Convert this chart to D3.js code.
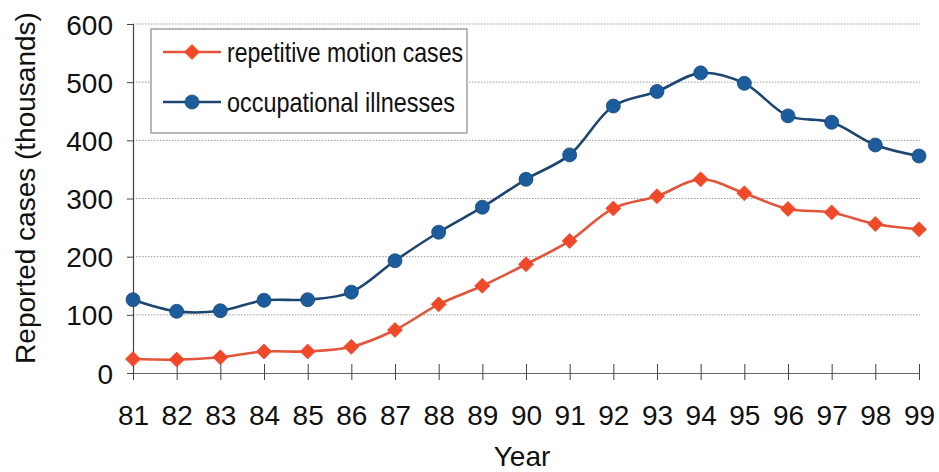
<!DOCTYPE html>
<html>
<head>
<meta charset="utf-8">
<script src="https://cdn.jsdelivr.net/npm/d3@7"></script>
<style>
  html, body { margin: 0; padding: 0; background: #fff; }
  svg { display: block; }
  text { font-family: Arial, "Liberation Sans", Helvetica, sans-serif; fill: #111; }
</style>
</head>
<body>
<svg id="chart" width="939" height="472"></svg>
<script>
// Reported cases by year (thousands)
const years = ["81","82","83","84","85","86","87","88","89","90","91","92","93","94","95","96","97","98","99"];
const repetitiveMotion = [24, 23, 27, 37, 37, 45, 74, 118, 150, 187, 227, 283, 304, 333, 309, 282, 276, 256, 247];
const occupationalIllnesses = [126, 106, 107, 125, 126, 139, 193, 242, 285, 333, 375, 459, 484, 516, 498, 442, 431, 392, 373];
const yTicks = [0, 100, 200, 300, 400, 500, 600];
const seriesNames = ["repetitive motion cases", "occupational illnesses"];

const svg = d3.select("#chart");
const plot = { left: 133, right: 919, top: 24, bottom: 373 };

const x = d3.scalePoint().domain(years).range([plot.left, plot.right]);
const y = d3.scaleLinear().domain([0, 600]).range([plot.bottom, plot.top]);

// dotted horizontal gridlines
svg.append("g")
  .selectAll("line")
  .data(yTicks.filter(d => d > 0))
  .join("line")
  .attr("x1", plot.left).attr("x2", plot.right + 1)
  .attr("y1", d => y(d)).attr("y2", d => y(d))
  .attr("stroke", "#9a9a9a")
  .attr("stroke-width", 1)
  .attr("stroke-dasharray", "1.5,1.5");

// y axis
const yAxis = svg.append("g")
  .attr("transform", `translate(${plot.left},0)`)
  .call(d3.axisLeft(y).tickValues(yTicks).tickSize(6).tickPadding(14));
yAxis.select(".domain").attr("stroke", "#444").attr("stroke-width", 1.2);
yAxis.selectAll(".tick line").attr("stroke", "#444");
yAxis.selectAll(".tick text")
  .style("font-size", "28px")
  .attr("fill", "#111")
  .attr("dy", "0.36em");

// x axis, ticks crossing the baseline
const xAxis = svg.append("g")
  .attr("transform", `translate(0,${plot.bottom})`)
  .call(d3.axisBottom(x).tickSizeInner(7).tickSizeOuter(0).tickPadding(25));
xAxis.select(".domain").attr("stroke", "#666").attr("stroke-width", 1.2);
xAxis.selectAll(".tick line").attr("y1", -9).attr("stroke", "#444");
xAxis.selectAll(".tick text")
  .style("font-size", "28px")
  .attr("fill", "#111");

// axis titles
svg.append("text")
  .attr("transform", "translate(25,188) rotate(-90)")
  .attr("text-anchor", "middle")
  .attr("dominant-baseline", "central")
  .style("font-size", "28px")
  .text("Reported cases (thousands)");

svg.append("text")
  .attr("x", 522).attr("y", 466)
  .attr("text-anchor", "middle")
  .style("font-size", "28px")
  .text("Year");

const series = [
  { name: seriesNames[0], values: repetitiveMotion, line: "#e2553b", fill: "#f0492a", shape: "diamond" },
  { name: seriesNames[1], values: occupationalIllnesses, line: "#1c4670", fill: "#1d5c9c", shape: "circle" }
];

const lineGen = d3.line()
  .x((d, i) => x(years[i]))
  .y(d => y(d))
  .curve(d3.curveCatmullRom.alpha(0.5));

function drawMarker(g, shape, color) {
  if (shape === "diamond") {
    g.append("path")
      .attr("d", "M0,-7.5L7.5,0L0,7.5L-7.5,0Z")
      .attr("fill", color)
      .attr("stroke", color).attr("stroke-width", 0.8);
  } else {
    g.append("circle")
      .attr("r", 7)
      .attr("fill", color)
      .attr("stroke", "#184a7c").attr("stroke-width", 0.8);
  }
}

series.forEach(s => {
  svg.append("path")
    .datum(s.values)
    .attr("d", lineGen)
    .attr("fill", "none")
    .attr("stroke", s.line)
    .attr("stroke-width", 2.6);
  svg.append("g")
    .selectAll("g")
    .data(s.values)
    .join("g")
    .attr("transform", (d, i) => `translate(${x(years[i])},${y(d)})`)
    .each(function() { drawMarker(d3.select(this), s.shape, s.fill); });
});

// legend
const legend = svg.append("g");
legend.append("rect")
  .attr("x", 151).attr("y", 29)
  .attr("width", 316).attr("height", 104)
  .attr("fill", "#fff")
  .attr("stroke", "#8a8a8a")
  .attr("stroke-width", 1.2);

series.forEach((s, i) => {
  const cy = 52 + i * 50;
  legend.append("line")
    .attr("x1", 163).attr("x2", 221)
    .attr("y1", cy).attr("y2", cy)
    .attr("stroke", s.line).attr("stroke-width", 2.6);
  const m = legend.append("g").attr("transform", `translate(192,${cy})`);
  drawMarker(m, s.shape, s.fill);
  legend.append("text")
    .attr("x", 227).attr("y", cy + 10)
    .style("font-family", "'Liberation Sans Narrow', 'Arial Narrow', Arial, sans-serif")
    .style("font-size", "28px")
    .attr("textLength", i === 0 ? 236 : 228)
    .attr("lengthAdjust", "spacingAndGlyphs")
    .text(s.name);
});
</script>
</body>
</html>
